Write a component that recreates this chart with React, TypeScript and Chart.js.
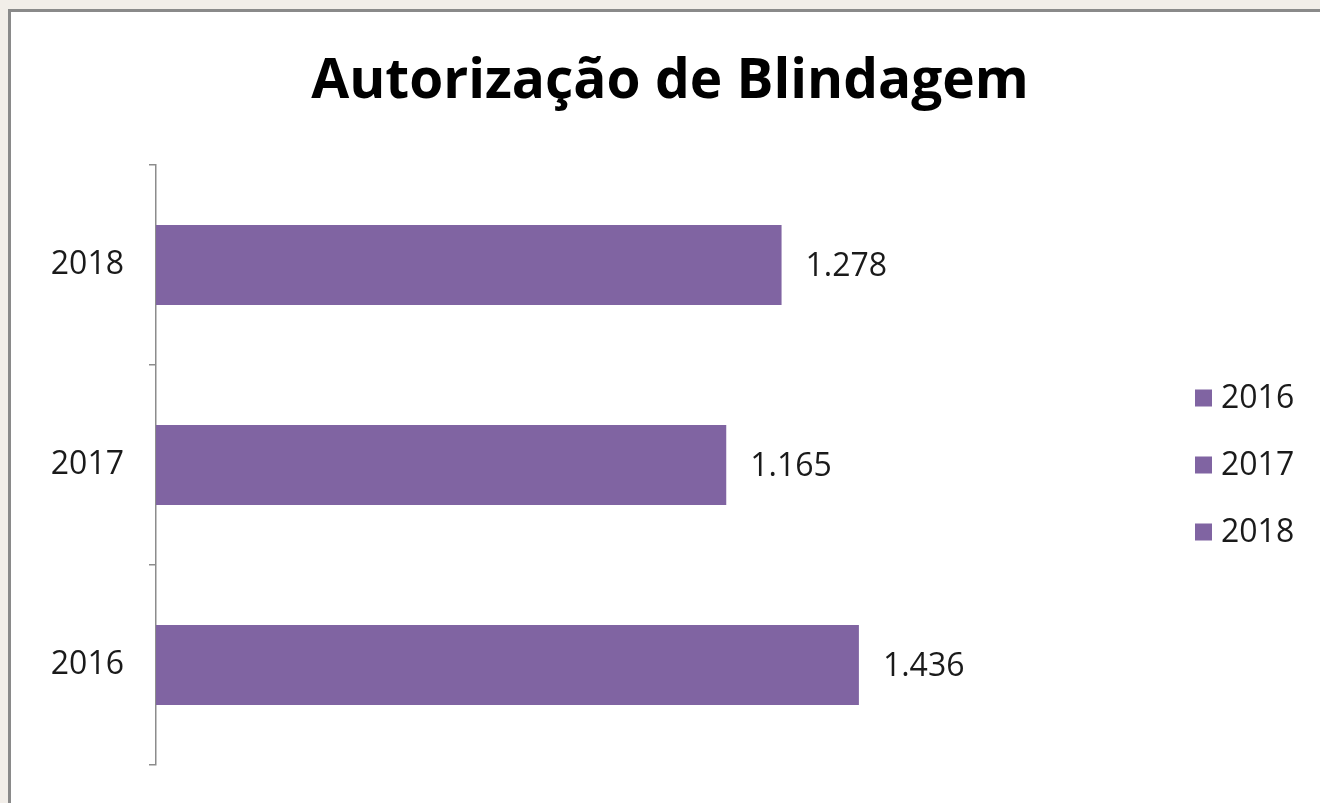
import React, { useEffect, useRef } from "react";
import { Chart, registerables } from "chart.js";

Chart.register(...registerables);

const titleText = "Autorização de Blindagem";
const categories = ["2018", "2017", "2016"];
const values = [1278, 1165, 1436];
const legendLabels = ["2016", "2017", "2018"];
const barColor = "#8064A2";
const fontFamily = "'Open Sans', 'DejaVu Sans', sans-serif";

const formatPt = (v: number) => v.toLocaleString("de-DE");

const valueLabelPlugin = {
  id: "valueLabels",
  afterDatasetsDraw(chart: any) {
    const { ctx } = chart;
    const meta = chart.getDatasetMeta(0);
    ctx.save();
    ctx.font = `32px ${fontFamily}`;
    ctx.fillStyle = "#1a1a1a";
    ctx.textAlign = "left";
    ctx.textBaseline = "middle";
    meta.data.forEach((bar: any, i: number) => {
      ctx.fillText(formatPt(values[i]), bar.x + 24, bar.y + 2);
    });
    ctx.restore();
  },
};

const sideLegendPlugin = {
  id: "sideLegend",
  afterDraw(chart: any) {
    const { ctx, chartArea } = chart;
    const midY = (chartArea.top + chartArea.bottom) / 2;
    const step = 67;
    const box = 17;
    const x0 = 1195;
    ctx.save();
    ctx.font = `32px ${fontFamily}`;
    ctx.textAlign = "left";
    ctx.textBaseline = "middle";
    legendLabels.forEach((t, i) => {
      const y = midY + (i - (legendLabels.length - 1) / 2) * step;
      ctx.fillStyle = barColor;
      ctx.fillRect(x0, y - box / 2, box, box);
      ctx.fillStyle = "#1a1a1a";
      ctx.fillText(t, x0 + box + 9, y + 1);
    });
    ctx.restore();
  },
};

export default function App() {
  const ref = useRef<HTMLCanvasElement | null>(null);
  useEffect(() => {
    if (!ref.current) return;
    const chart = new Chart(ref.current, {
      type: "bar",
      data: {
        labels: categories,
        datasets: [
          {
            label: "Autorização",
            data: values,
            backgroundColor: barColor,
            borderWidth: 0,
            categoryPercentage: 0.8,
            barPercentage: 0.5,
          },
        ],
      },
      options: {
        indexAxis: "y",
        animation: false,
        responsive: false,
        maintainAspectRatio: false,
        layout: { padding: { top: 49, bottom: 38, left: 20, right: 0 } },
        scales: {
          x: { display: false, min: 0, max: 2378 },
          y: {
            afterFit(scale: any) {
              scale.width = 136;
              scale.paddingTop = 0;
              scale.paddingBottom = 0;
            },
            border: { display: true, color: "#8c8c8c", width: 1.5 },
            grid: {
              display: true,
              offset: true,
              drawOnChartArea: false,
              drawTicks: true,
              tickLength: 7,
              color: "#8c8c8c",
              lineWidth: 1.5,
            },
            ticks: {
              padding: 25,
              color: "#1a1a1a",
              font: { family: fontFamily, size: 32 },
            },
          },
        },
        plugins: {
          title: {
            display: true,
            text: titleText,
            color: "#000",
            font: { family: fontFamily, size: 55, weight: "bold", lineHeight: 1.2 },
            padding: { top: 0, bottom: 50 },
          },
          legend: { display: false },
          tooltip: { enabled: false },
        },
      },
      plugins: [valueLabelPlugin, sideLegendPlugin],
    });
    return () => chart.destroy();
  }, []);

  return (
    <div
      style={{
        position: "fixed",
        left: 0,
        top: 0,
        width: 1320,
        height: 803,
        background: "#f2eee9",
        overflow: "hidden",
      }}
    >
      <div
        style={{
          position: "absolute",
          left: 8,
          top: 9,
          width: 1340,
          height: 820,
          background: "#ffffff",
          border: "3px solid #8a8a8a",
        }}
      />
      <canvas
        ref={ref}
        width={1320}
        height={803}
        style={{ position: "absolute", left: 0, top: 0, width: 1320, height: 803 }}
      />
    </div>
  );
}
